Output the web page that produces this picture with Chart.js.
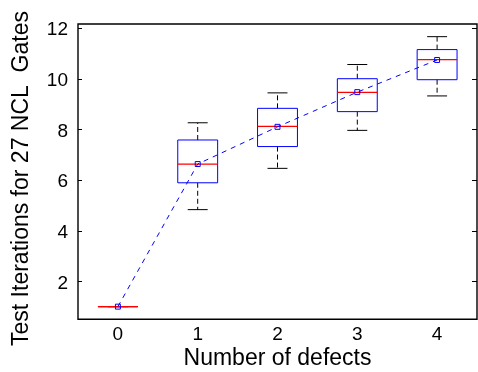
<!DOCTYPE html>
<html>
<head>
<meta charset="utf-8">
<script src="https://cdn.jsdelivr.net/npm/chart.js@4/dist/chart.umd.min.js"></script>
<style>
html,body{margin:0;padding:0;background:#fff;overflow:hidden;width:478px;height:372px;}
#wrap{position:absolute;left:0;top:0;width:482px;height:372px;}
</style>
</head>
<body>
<div id="wrap"><canvas id="c" width="482" height="372"></canvas></div>
<script>
// ---- data ----
const categories = [0, 1, 2, 3, 4];
const whiskerLow  = [1.0, 4.83, 6.46, 7.96, 9.32];
const q1          = [1.0, 5.89, 7.32, 8.70, 9.96];
const median      = [1.0, 6.63, 8.12, 9.46, 10.75];
const q3          = [1.0, 7.58, 8.83, 10.00, 11.15];
const whiskerHigh = [1.0, 8.26, 9.44, 10.56, 11.66];
const means       = [1.0, 6.63, 8.10, 9.47, 10.74];
const yTicks = [2, 4, 6, 8, 10, 12];
const xLabel = 'Number of defects';
const yLabel = 'Test Iterations for 27 NCL  Gates';

const FONT = "'Liberation Sans', Arial, sans-serif";

const boxPlugin = {
  id: 'boxes',
  beforeDatasetsDraw(chart) {
    const ctx = chart.ctx, xs = chart.scales.x, ys = chart.scales.y;
    ctx.save();
    categories.forEach((c, i) => {
      const xc = xs.getPixelForValue(c);
      const xl = xs.getPixelForValue(c - 0.25), xr = xs.getPixelForValue(c + 0.25);
      const cl = xs.getPixelForValue(c - 0.125), cr = xs.getPixelForValue(c + 0.125);
      const yWL = ys.getPixelForValue(whiskerLow[i]), yQ1 = ys.getPixelForValue(q1[i]);
      const yMed = ys.getPixelForValue(median[i]), yQ3 = ys.getPixelForValue(q3[i]);
      const yWH = ys.getPixelForValue(whiskerHigh[i]);
      ctx.strokeStyle = '#000'; ctx.lineWidth = 1; ctx.setLineDash([5, 3]);
      ctx.beginPath();
      ctx.moveTo(xc, yQ3); ctx.lineTo(xc, yWH);
      ctx.moveTo(xc, yQ1); ctx.lineTo(xc, yWL);
      ctx.stroke();
      ctx.setLineDash([]);
      ctx.beginPath();
      ctx.moveTo(cl, yWH); ctx.lineTo(cr, yWH);
      ctx.moveTo(cl, yWL); ctx.lineTo(cr, yWL);
      ctx.stroke();
      ctx.strokeStyle = '#0000ff';
      ctx.beginPath();
      ctx.rect(xl, yQ3, xr - xl, yQ1 - yQ3);
      ctx.stroke();
      ctx.strokeStyle = '#ff0000'; ctx.lineWidth = 1.3;
      ctx.beginPath();
      ctx.moveTo(xl, yMed); ctx.lineTo(xr, yMed);
      ctx.stroke();
    });
    ctx.restore();
  },
  afterDraw(chart) {
    const ctx = chart.ctx, a = chart.chartArea, ys = chart.scales.y;
    ctx.save();
    ctx.strokeStyle = '#000'; ctx.lineWidth = 1.4; ctx.setLineDash([]);
    ctx.beginPath();
    ctx.rect(a.left, a.top, a.right - a.left, a.bottom - a.top);
    ctx.stroke();
    ctx.lineWidth = 1;
    ctx.beginPath();
    yTicks.forEach(v => {
      const y = Math.round(ys.getPixelForValue(v)) + 0.5;
      ctx.moveTo(a.left, y); ctx.lineTo(a.left + 4, y);
      ctx.moveTo(a.right, y); ctx.lineTo(a.right - 5, y);
    });
    ctx.stroke();
    // y axis title
    ctx.fillStyle = '#000';
    ctx.font = '23px ' + FONT;
    ctx.textAlign = 'center';
    ctx.textBaseline = 'middle';
    ctx.translate(22, 178.5);
    ctx.rotate(-Math.PI / 2);
    ctx.fillText(yLabel, 0, 0);
    ctx.restore();
  }
};

new Chart(document.getElementById('c'), {
  type: 'line',
  data: {
    datasets: [{
      data: categories.map((c, i) => ({ x: c, y: means[i] })),
      borderColor: '#0000ff',
      borderWidth: 1,
      borderDash: [5, 5],
      pointStyle: 'rect',
      pointRadius: 3.5,
      pointBorderColor: '#0000ff',
      pointBackgroundColor: 'rgba(0,0,0,0)',
      pointBorderWidth: 1,
      fill: false,
      tension: 0
    }]
  },
  options: {
    responsive: false,
    devicePixelRatio: 1,
    animation: false,
    events: [],
    layout: { padding: { left: 0, top: 24, right: 2, bottom: 0 } },
    plugins: { legend: { display: false }, tooltip: { enabled: false } },
    scales: {
      x: {
        type: 'linear', min: -0.5, max: 4.5,
        afterBuildTicks(s) { s.ticks = categories.map(v => ({ value: v })); },
        afterFit(s) { s.height = 52.7; },
        grid: { display: false, drawTicks: false },
        border: { display: false },
        ticks: {
          color: '#000', font: { family: FONT, size: 19 }, padding: 4,
          maxRotation: 0, autoSkip: false,
          callback: (v) => String(v)
        },
        title: {
          display: true, text: xLabel, color: '#000',
          font: { family: FONT, size: 23, lineHeight: 1 }, padding: { top: 0, bottom: 1.5 }
        }
      },
      y: {
        type: 'linear', min: 0.5, max: 12.16,
        afterBuildTicks(s) { s.ticks = yTicks.map(v => ({ value: v })); },
        afterFit(s) { s.width = 78; },
        grid: { display: false, drawTicks: false },
        border: { display: false },
        ticks: {
          color: '#000', font: { family: FONT, size: 19 }, padding: 10,
          labelOffset: 2,
          autoSkip: false, callback: (v) => String(v)
        }
      }
    }
  },
  plugins: [boxPlugin]
});
</script>
</body>
</html>
